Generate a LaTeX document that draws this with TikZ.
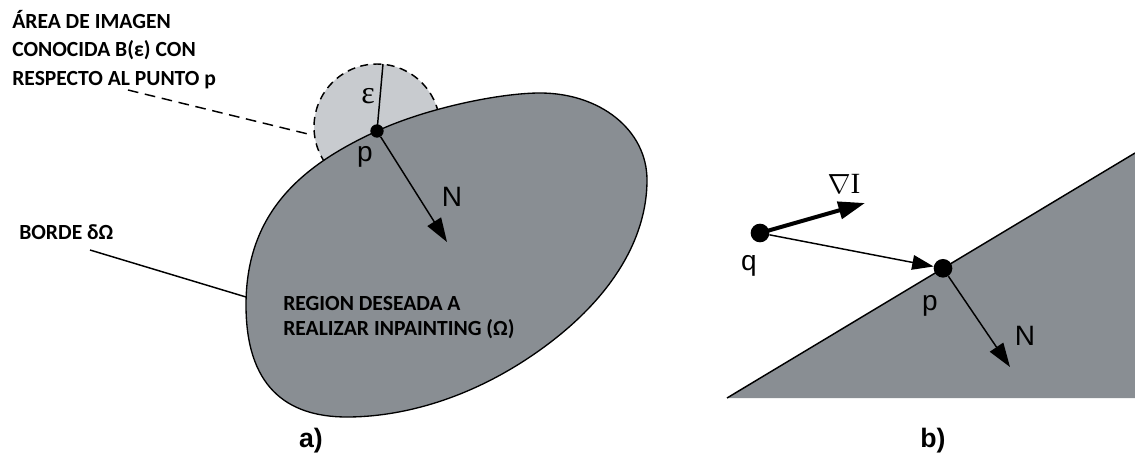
\documentclass[tikz,border=0pt]{standalone}
\usepackage{fontspec}
\setmainfont{Carlito}
\newfontfamily\arialf{Liberation Sans}
\newfontfamily\seriff{Liberation Serif}
\usetikzlibrary{arrows.meta,calc}
\definecolor{regiongray}{RGB}{137,142,147}
\definecolor{balllight}{RGB}{200,203,207}
\begin{document}
\begin{tikzpicture}[x=0.75pt,y=-0.75pt,
  lbl/.style={font=\bfseries\fontsize{16.2}{21.4}\selectfont, inner sep=0pt, align=left},
  sym/.style={font=\arialf\fontsize{21}{24}\selectfont, inner sep=0pt},
  caplbl/.style={font=\arialf\bfseries\fontsize{20}{24}\selectfont, inner sep=0pt},
  dotnode/.style={circle, fill=black, inner sep=0pt, minimum size=#1},
  thinline/.style={line width=1.1pt},
  arr/.style={thinline, -{Triangle[length=18pt,width=12pt]}},
  arrsmall/.style={thinline, -{Triangle[length=16pt,width=11pt]}},
  arrthick/.style={line width=3pt, -{Triangle[length=20pt,width=13pt]}}]
\useasboundingbox (0,0) rectangle (1135,460);

% ---------- panel a ----------
\fill[balllight] (377,127) circle[radius=63];
\draw[line width=1.1pt, dash pattern=on 6pt off 4pt] (377,127) circle[radius=63];
\filldraw[fill=regiongray, draw=black, line width=1pt]
  (377,131) .. controls (427,108) and (500,93) .. (540,93)
            .. controls (600,93) and (647,130) .. (647,180)
            .. controls (647,240) and (610,300) .. (540,350)
            .. controls (470,400) and (400,417) .. (347,417)
            .. controls (285,417) and (246,385) .. (246,305)
            .. controls (246,210) and (305,164) .. (377,131) -- cycle;

\node[dotnode=10pt] (pa) at (377,131) {};
\coordinate (etop) at (383,64);
\draw[thinline] (pa.center) -- (etop);
\node[font=\seriff\fontsize{24}{28}\selectfont, inner sep=0pt] (eps) at (368,96) {ε};
\node[sym] (plabela) at (365,157) {p};
\coordinate (natip) at (447,242);
\draw[arr] (pa) -- (natip);
\node[sym] (nlabela) at (452,197) {N};

\node[lbl, anchor=north west] (arealbl) at (12,10)
  {ÁREA DE IMAGEN\\CONOCIDA B(ε) CON\\RESPECTO AL PUNTO p};
\coordinate (areaend) at (312,135);
\coordinate (areastart) at (128,90);
\draw[thinline, dash pattern=on 8pt off 5pt] (areastart) -- (areaend);

\node[lbl, anchor=base west] (bordelbl) at (19,239) {BORDE δΩ};
\coordinate (bordestart) at (90,250);
\coordinate (bordeend) at (246,297);
\draw[thinline] (bordestart) -- (bordeend);

\node[lbl, anchor=north west, font=\bfseries\fontsize{16.2}{18.75}\selectfont] (regionlbl) at (283,296)
  {REGION DESEADA A\\REALIZAR INPAINTING (Ω)};

\node[caplbl] (capa) at (311,441) {a)};

% ---------- panel b ----------
\coordinate (tl) at (727,398);
\coordinate (tr) at (1135,153);
\coordinate (br) at (1135,398);
\fill[regiongray] (tl) -- (tr) -- (br) -- cycle;
\draw[line width=1.1pt] (tl) -- (tr);

\node[dotnode=14pt] (pb) at ($(tl)!0.5294!(tr)$) {};
\node[dotnode=14pt] (q) at (760,233) {};
\coordinate (gradtip) at (865,203);
\draw[arrthick] (q.center) -- (gradtip);
\draw[arrsmall] (q) -- (pb);
\coordinate (nbtip) at (1010,367);
\draw[arr] (pb) -- (nbtip);

\node[font=\fontsize{22}{26}\selectfont, inner sep=0pt] (gradlbl) at (844,184) {$\nabla$\seriff I};
\node[sym] (qlbl) at (749,266) {q};
\node[sym] (plabelb) at (930,306) {p};
\node[sym] (nlabelb) at (1025,336) {N};

\node[caplbl] (capb) at (933,441) {b)};
\end{tikzpicture}
\end{document}
